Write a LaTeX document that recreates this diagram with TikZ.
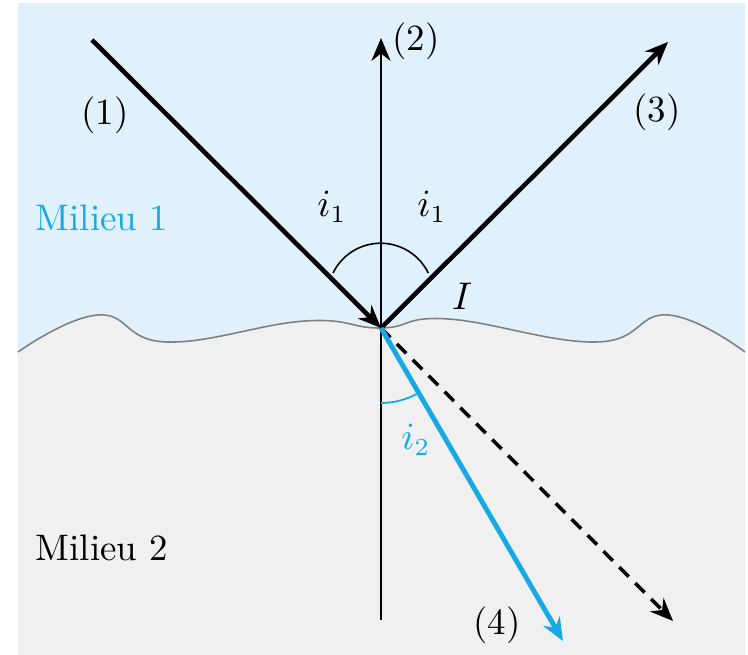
\documentclass[tikz,border=0pt]{standalone}
\usetikzlibrary{arrows.meta}
\definecolor{bgblue}{HTML}{E0F1FB}
\definecolor{bggrey}{HTML}{F0F0F0}
\definecolor{raycol}{HTML}{17A9E3}
\begin{document}
\begin{tikzpicture}[x=0.01cm,y=-0.01cm,
  font=\fontsize{10.5}{12.5}\selectfont,
  tip/.style={-{Stealth[length=6.5pt,width=5.4pt]}},
  mainray/.style={line width=1.3pt,tip},
  lbl/.style={inner sep=0pt}]
\useasboundingbox (0,0) rectangle (748,655);
\fill[bgblue] (18,3) rectangle (745,655);
\fill[bggrey] plot[smooth,tension=0.75] coordinates {(18,352) (98,315) (167,342) (305,321) (381,328) (448,319) (596,342) (668,315) (745,352)} -- (745,655) -- (18,655) -- cycle;
\draw[gray,line width=0.45pt] plot[smooth,tension=0.75] coordinates {(18,352) (98,315) (167,342) (305,321) (381,328) (448,319) (596,342) (668,315) (745,352)};

\coordinate (I) at (381,328);
\coordinate (src) at (92,40);
\coordinate (refl) at (668,42);
\coordinate (ntop) at (381,38);
\coordinate (nbot) at (381,620);
\coordinate (dash) at (673,621);
\coordinate (refr) at (563,641);

\draw[line width=0.75pt,tip] (nbot) -- (ntop);
\draw[mainray] (src) -- (I);
\draw[mainray] (I) -- (refl);
\draw[line width=1pt,tip,dash pattern=on 3.8pt off 2.6pt] (I) -- (dash);
\draw[raycol,line width=1.4pt,tip] (I) -- (refr);

\draw[line width=0.45pt] (333,273) arc[start angle=206,end angle=334,radius=53];
\draw[raycol,line width=0.5pt] (381,403) arc[start angle=90,end angle=60,radius=75];

\node[lbl] (l1) at (105,115) {(1)};
\node[lbl] (l2) at (416,41) {(2)};
\node[lbl] (l3) at (657,112) {(3)};
\node[lbl] (l4) at (497,625) {(4)};
\node[lbl] (ia) at (332,207) {$i_1$};
\node[lbl] (ib) at (432,207) {$i_1$};
\node[lbl] (lI) at (462,296) {$I$};
\node[lbl,text=raycol] (ic) at (416,440) {$i_2$};
\node[lbl,text=raycol,anchor=west] (m1) at (35,218) {Milieu 1};
\node[lbl,anchor=west] (m2) at (35,548) {Milieu 2};
\end{tikzpicture}
\end{document}
